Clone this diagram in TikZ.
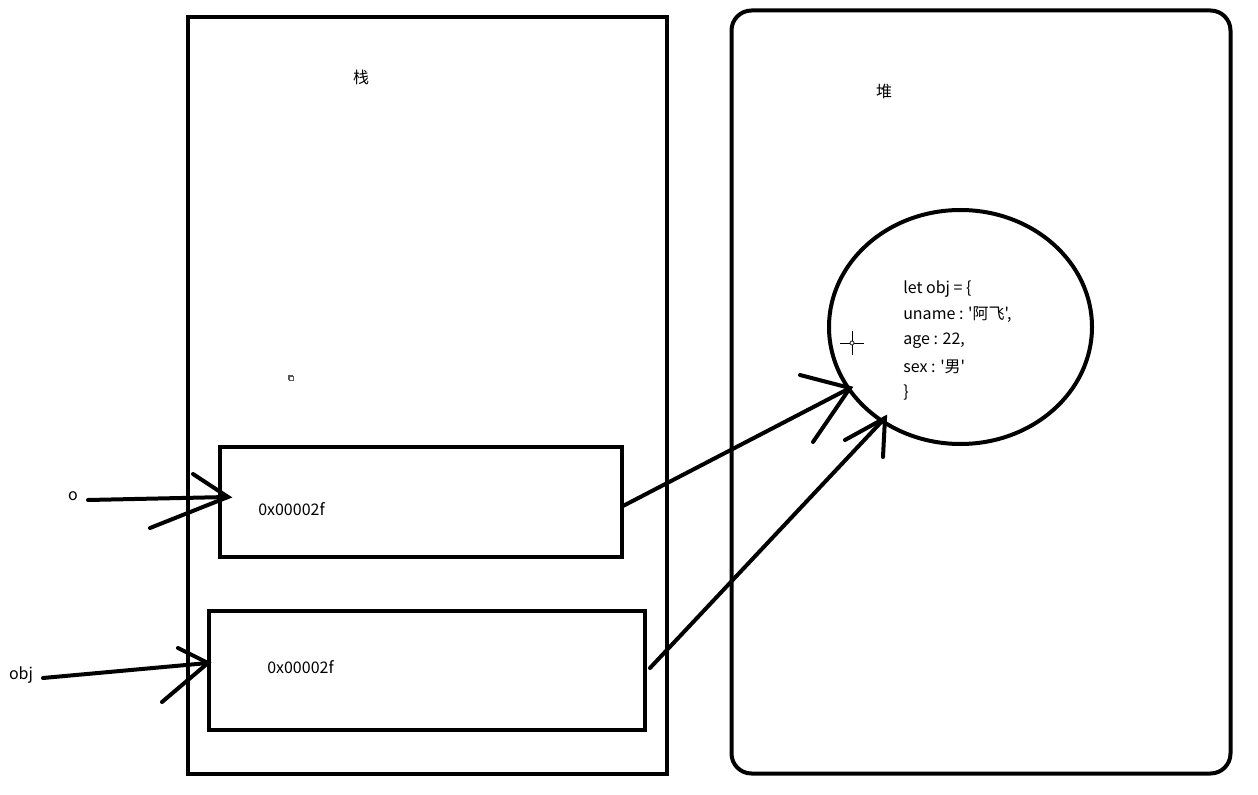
\documentclass[tikz,border=0pt]{standalone}
\usepackage{fontspec}
\usetikzlibrary{shapes.geometric}
\setmainfont{Noto Sans CJK SC}
\newfontfamily\cjk{Noto Sans CJK SC}
\begin{document}
\begin{tikzpicture}[x=0.75pt,y=-0.75pt,
  box/.style={draw,line width=3pt,inner sep=0pt,anchor=north west},
  lbl/.style={font=\fontsize{12}{14}\selectfont\cjk,inner sep=0pt,anchor=west},
  stroke/.style={line width=3pt,line cap=round}]
\useasboundingbox[fill=white] (0,0) rectangle (1258,795);
% stack frame
\node[box,minimum width=479*0.75pt,minimum height=756*0.75pt] (stack) at (185.5,15.5) {};
% heap frame
\node[box,rounded corners=15pt,minimum width=499*0.75pt,minimum height=763*0.75pt] (heap) at (729.5,8.5) {};
\node[lbl,anchor=center] (stacklbl) at (361,77) {栈};
\node[lbl,anchor=center] (heaplbl) at (884,91) {堆};
% memory cells
\node[box,minimum width=402*0.75pt,minimum height=110*0.75pt] (cell1) at (217.5,444.5) {};
\node[box,minimum width=436*0.75pt,minimum height=119*0.75pt] (cell2) at (206.5,608.5) {};
\node[lbl] (addr1) at (258,509) {0x00002f};
\node[lbl] (addr2) at (267,667) {0x00002f};
% object ellipse
\node[draw,line width=3pt,ellipse,minimum width=263*0.75pt,minimum height=234*0.75pt,inner sep=0pt] (obj) at (960.5,327) {};
\node[lbl] (t1) at (903,289) {let obj = \{};
\node[lbl] (t2) at (903,315) {uname : '阿飞',};
\node[lbl] (t3) at (903,341) {age : 22,};
\node[lbl] (t4) at (903,367) {sex : '男'};
\node[lbl] (t5) at (903,393) {\}};
% variable labels
\node[lbl,anchor=center] (vo) at (73,496) {o};
\node[lbl,anchor=center] (vobj) at (21,675) {obj};
% arrow coordinates
\coordinate (oS) at (88,500);
\coordinate (oE) at (228,497);
\coordinate (oH1) at (193,474);
\coordinate (oH2) at (150,528);
\coordinate (bS) at (43,678);
\coordinate (bE) at (208,663);
\coordinate (bH1) at (178,648);
\coordinate (bH2) at (162,702);
\coordinate (c1S) at (623,506);
\coordinate (c1E) at (850,388);
\coordinate (c1H1) at (800,375);
\coordinate (c1H2) at (813,442);
\coordinate (c2S) at (650,668);
\coordinate (c2E) at (885,418);
\coordinate (c2H1) at (845,440);
\coordinate (c2H2) at (883,457);
\draw[stroke] (oS) -- (oE);
\draw[stroke] (oH1) -- (oE) -- (oH2);
\draw[stroke] (bS) -- (bE);
\draw[stroke] (bH1) -- (bE) -- (bH2);
\draw[stroke] (c1S) -- (c1E);
\draw[stroke] (c1H1) -- (c1E) -- (c1H2);
\draw[stroke] (c2S) -- (c2E);
\draw[stroke] (c2H1) -- (c2E) -- (c2H2);
% cursor crosshair
\coordinate (cur) at (852,343);
\draw[line width=0.6pt] ([xshift=-9pt]cur) -- ([xshift=-1.5pt]cur) ([xshift=1.5pt]cur) -- ([xshift=9pt]cur)
  ([yshift=-9pt]cur) -- ([yshift=-1.5pt]cur) ([yshift=1.5pt]cur) -- ([yshift=9pt]cur);
\draw[line width=0.5pt] (cur) circle (1.5pt);
% small icon
\draw[line width=0.5pt,gray!70!black] (288,375) rectangle (292,379);
\draw[line width=0.5pt,gray!70!black,fill=white] (289.5,376.5) rectangle (293.5,380.5);
\end{tikzpicture}
\end{document}
